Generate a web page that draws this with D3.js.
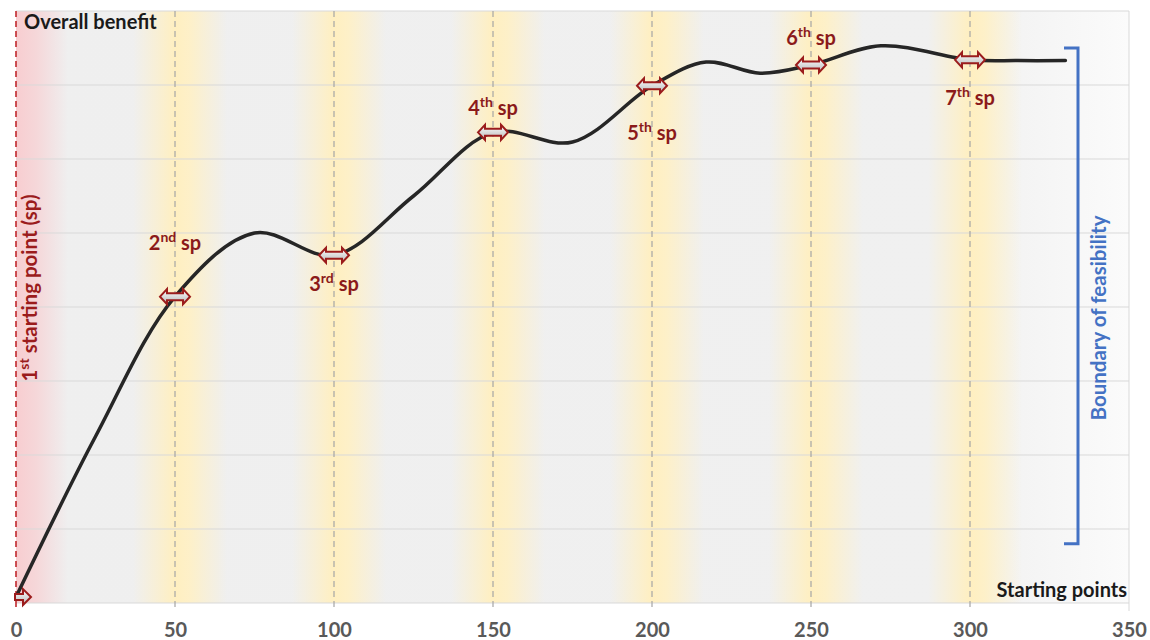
<!DOCTYPE html>
<html>
<head>
<meta charset="utf-8">
<script src="https://cdn.jsdelivr.net/npm/d3@7"></script>
<style>
  body { margin: 0; background: #fff; }
  text { font-family: Lato, "Open Sans", sans-serif; font-weight: bold; }
</style>
</head>
<body>
<div id="chart"></div>
<script>
// x positions of the starting points and the curve
var xTicks = [0, 50, 100, 150, 200, 250, 300, 350];
var spX = [50, 100, 150, 200, 250, 300];
var spOrd = ["nd", "rd", "th", "th", "th", "th"];
var spNum = ["2", "3", "4", "5", "6", "7"];
var curveX = [0, 25, 50, 75, 100, 125, 150, 175, 200, 217, 234, 250, 272, 300, 315, 330];
var curveY = [0.08, 2.25, 4.14, 5.0, 4.7, 5.5, 6.36, 6.23, 6.99, 7.31, 7.16, 7.27, 7.53, 7.34, 7.33, 7.33];
var gridY = [0, 1, 2, 3, 4, 5, 6, 7, 8];

var w = 1150, h = 640;

var xScale = d3.scaleLinear().domain([0, 350]).range([16, 1129]);
var yScale = d3.scaleLinear().domain([0, 8]).range([603, 11]);

var svg = d3.select("#chart").append("svg")
  .attr("width", w)
  .attr("height", h);

var defs = svg.append("defs");

// background: grey fading to white at the right
var bg = defs.append("linearGradient").attr("id", "bgGrad");
bg.append("stop").attr("offset", "0%").attr("stop-color", "#efefef");
bg.append("stop").attr("offset", "85%").attr("stop-color", "#f0f0f0");
bg.append("stop").attr("offset", "100%").attr("stop-color", "#fbfbfb");

// yellow band round each starting point line
var band = defs.append("linearGradient").attr("id", "bandGrad");
band.append("stop").attr("offset", "0%").attr("stop-color", "#fff0c4").attr("stop-opacity", 0);
band.append("stop").attr("offset", "45%").attr("stop-color", "#ffefc0").attr("stop-opacity", 1);
band.append("stop").attr("offset", "60%").attr("stop-color", "#fff0c4").attr("stop-opacity", 0.9);
band.append("stop").attr("offset", "100%").attr("stop-color", "#fff0c4").attr("stop-opacity", 0);

// pink at the first starting point
var pink = defs.append("linearGradient").attr("id", "pinkGrad");
pink.append("stop").attr("offset", "0%").attr("stop-color", "#f8cdd0").attr("stop-opacity", 1);
pink.append("stop").attr("offset", "40%").attr("stop-color", "#f8cdd0").attr("stop-opacity", 0.7);
pink.append("stop").attr("offset", "100%").attr("stop-color", "#f8cdd0").attr("stop-opacity", 0);

// arrow fill
var arr = defs.append("linearGradient").attr("id", "arrGrad")
  .attr("x1", 0).attr("x2", 0).attr("y1", 0).attr("y2", 1);
arr.append("stop").attr("offset", "0%").attr("stop-color", "#ffffff");
arr.append("stop").attr("offset", "100%").attr("stop-color", "#b8b8b8");

var plotTop = yScale(8), plotBottom = yScale(0);

svg.append("rect")
  .attr("x", xScale(0)).attr("y", plotTop)
  .attr("width", xScale(350) - xScale(0))
  .attr("height", plotBottom - plotTop)
  .attr("fill", "url(#bgGrad)");

svg.selectAll(".band")
  .data(spX)
  .enter()
  .append("rect")
  .attr("class", "band")
  .attr("x", function(d) { return xScale(d) - 42; })
  .attr("y", plotTop)
  .attr("width", 94)
  .attr("height", plotBottom - plotTop)
  .attr("fill", "url(#bandGrad)");

svg.append("rect")
  .attr("x", xScale(0)).attr("y", plotTop)
  .attr("width", 52)
  .attr("height", plotBottom - plotTop)
  .attr("fill", "url(#pinkGrad)");

// horizontal gridlines
svg.selectAll(".grid")
  .data(gridY)
  .enter()
  .append("line")
  .attr("class", "grid")
  .attr("x1", xScale(0)).attr("x2", xScale(350))
  .attr("y1", function(d) { return yScale(d); })
  .attr("y2", function(d) { return yScale(d); })
  .attr("stroke", "#d9d9d9")
  .attr("stroke-width", 1);

svg.append("line")
  .attr("x1", xScale(350)).attr("x2", xScale(350))
  .attr("y1", plotTop).attr("y2", plotBottom + 8)
  .attr("stroke", "#d9d9d9");

// dashed verticals
svg.selectAll(".vline")
  .data(spX)
  .enter()
  .append("line")
  .attr("class", "vline")
  .attr("x1", function(d) { return xScale(d); })
  .attr("x2", function(d) { return xScale(d); })
  .attr("y1", plotTop).attr("y2", plotBottom + 8)
  .attr("stroke", "#a6a6a6")
  .attr("stroke-width", 1.2)
  .attr("stroke-dasharray", "6,4");

svg.append("line")
  .attr("x1", xScale(0)).attr("x2", xScale(0))
  .attr("y1", plotTop).attr("y2", plotBottom + 8)
  .attr("stroke", "#c0282d")
  .attr("stroke-width", 1.6)
  .attr("stroke-dasharray", "6,4");

// x axis
var xAxis = d3.axisBottom(xScale)
  .tickValues(xTicks)
  .tickSize(0)
  .tickPadding(20);

var gx = svg.append("g")
  .attr("transform", "translate(0," + plotBottom + ")")
  .call(xAxis);
gx.select(".domain").remove();
gx.selectAll("text")
  .style("font-family", "Lato, sans-serif")
  .style("font-weight", "bold")
  .attr("font-size", 20)
  .attr("fill", "#595959");

// the curve
var pts = curveX.map(function(d, i) { return [d, curveY[i]]; });
var line = d3.line()
  .x(function(d) { return xScale(d[0]); })
  .y(function(d) { return yScale(d[1]); })
  .curve(d3.curveCatmullRom.alpha(0.5));

svg.append("path")
  .attr("d", line(pts))
  .attr("fill", "none")
  .attr("stroke", "#262626")
  .attr("stroke-width", 3.5)
  .attr("stroke-linecap", "round");

// find the curve's height at a starting point from the drawn path
var pathNode = svg.append("path").attr("d", line(pts)).attr("fill", "none").node();
function yAt(px) {
  var len = pathNode.getTotalLength(), lo = 0, hi = len;
  for (var k = 0; k < 40; k++) {
    var mid = (lo + hi) / 2;
    if (pathNode.getPointAtLength(mid).x < px) lo = mid; else hi = mid;
  }
  return pathNode.getPointAtLength(lo).y;
}

var arrowPath = "M-15,0 L-8,-7.5 L-8,-3.5 L8,-3.5 L8,-7.5 L15,0 L8,7.5 L8,3.5 L-8,3.5 L-8,7.5 Z";

svg.selectAll(".arrow")
  .data(spX)
  .enter()
  .append("path")
  .attr("class", "arrow")
  .attr("d", arrowPath)
  .attr("transform", function(d) { return "translate(" + xScale(d) + "," + yAt(xScale(d)) + ")"; })
  .attr("fill", "url(#arrGrad)")
  .attr("stroke", "#9b1c1c")
  .attr("stroke-width", 2);

// first point arrow
svg.append("path")
  .attr("d", "M0,-3 L8,-3 L8,-8 L16,0 L8,8 L8,3 L0,3 Z")
  .attr("transform", "translate(" + (xScale(0) - 1) + "," + yScale(curveY[0]) + ")")
  .attr("fill", "url(#arrGrad)")
  .attr("stroke", "#9b1c1c")
  .attr("stroke-width", 2);

// labels of starting points
var labelDy = [-54, 29, -24, 47, -27, 38];
var lab = svg.selectAll(".splab")
  .data(spX)
  .enter()
  .append("text")
  .attr("class", "splab")
  .attr("text-anchor", "middle")
  .attr("x", function(d) { return xScale(d); })
  .attr("y", function(d, i) { return yAt(xScale(d)) + labelDy[i] + 7; })
  .attr("font-size", 20)
  .attr("fill", "#8b1a1a");
lab.append("tspan").text(function(d, i) { return spNum[i]; });
lab.append("tspan").attr("dy", -8).attr("font-size", 14).text(function(d, i) { return spOrd[i]; });
lab.append("tspan").attr("dy", 8).text(" sp");

// rotated first sp label
var first = svg.append("text")
  .attr("transform", "translate(" + 37 + "," + 288 + ") rotate(-90)")
  .attr("text-anchor", "middle")
  .attr("font-size", 20.5)
  .attr("fill", "#9b1c1c");
first.append("tspan").text("1");
first.append("tspan").attr("dy", -8).attr("font-size", 14).text("st");
first.append("tspan").attr("dy", 8).text(" starting point (sp)");

// titles
svg.append("text")
  .attr("x", 24).attr("y", 29)
  .attr("font-size", 20)
  .attr("fill", "#1a1a1a")
  .text("Overall benefit");

svg.append("text")
  .attr("x", 1127).attr("y", 597)
  .attr("text-anchor", "end")
  .attr("font-size", 20)
  .attr("fill", "#1a1a1a")
  .text("Starting points");

// boundary bracket
var bTop = yScale(7.5), bBot = yScale(0.8);
svg.append("path")
  .attr("d", "M1064," + bTop + " H1078 V" + bBot + " H1064")
  .attr("fill", "none")
  .attr("stroke", "#4472c4")
  .attr("stroke-width", 3);

svg.append("text")
  .attr("transform", "translate(" + 1106 + "," + 318 + ") rotate(-90)")
  .attr("text-anchor", "middle")
  .attr("font-size", 20.5)
  .attr("fill", "#4472c4")
  .text("Boundary of feasibility");
</script>
</body>
</html>
